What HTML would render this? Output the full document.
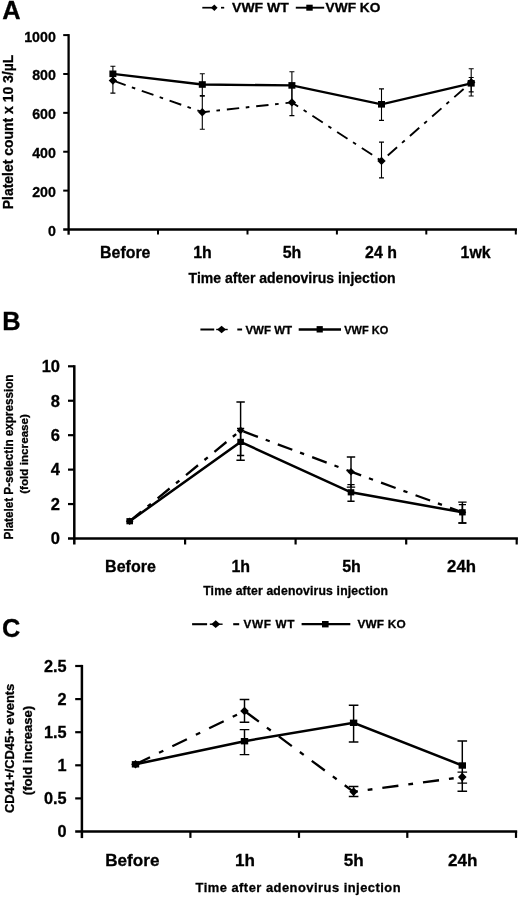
<!DOCTYPE html>
<html lang="en"><head><meta charset="utf-8"><title>Figure</title>
<style>
html,body{margin:0;padding:0;background:#fff;}
body{width:520px;height:897px;overflow:hidden;}
svg{display:block;}
svg text{font-family:"Liberation Sans", Arial, Helvetica, sans-serif;font-weight:700;fill:#000;white-space:pre;stroke:#000;stroke-width:0.3px;}
</style></head><body>
<svg width="520" height="897" viewBox="0 0 520 897">
<rect width="520" height="897" fill="#fff"/>
<text x="2.2" y="18.8" font-size="25.4" text-anchor="start" >A</text>
<line x1="202.3" y1="7.7" x2="214" y2="7.7" stroke="#000" stroke-width="1.7"/>
<line x1="221" y1="7.7" x2="224.2" y2="7.7" stroke="#000" stroke-width="1.7"/>
<path d="M211.0,7.7 L214.3,4.4 L217.6,7.7 L214.3,11.0 Z" fill="#000"/>
<text x="232.1" y="12" font-size="13.2" textLength="56.7" lengthAdjust="spacingAndGlyphs">VWF WT</text>
<line x1="295.8" y1="7.7" x2="324.2" y2="7.7" stroke="#000" stroke-width="1.9"/>
<rect x="306.3" y="4.7" width="6.4" height="6.0" fill="#000"/>
<text x="325.6" y="12" font-size="13.2" textLength="54.8" lengthAdjust="spacingAndGlyphs">VWF KO</text>
<line x1="68.6" y1="34.1" x2="68.6" y2="234.7" stroke="#000" stroke-width="2.3"/>
<line x1="63.2" y1="229.5" x2="517" y2="229.5" stroke="#000" stroke-width="2.3"/>
<text x="55.8" y="235.9" font-size="14.2" text-anchor="end" >0</text>
<line x1="63.2" y1="190.62" x2="68.6" y2="190.62" stroke="#000" stroke-width="2"/>
<text x="55.8" y="197.02" font-size="14.2" text-anchor="end" >200</text>
<line x1="63.2" y1="151.74" x2="68.6" y2="151.74" stroke="#000" stroke-width="2"/>
<text x="55.8" y="158.14" font-size="14.2" text-anchor="end" >400</text>
<line x1="63.2" y1="112.86" x2="68.6" y2="112.86" stroke="#000" stroke-width="2"/>
<text x="55.8" y="119.26" font-size="14.2" text-anchor="end" >600</text>
<line x1="63.2" y1="73.98" x2="68.6" y2="73.98" stroke="#000" stroke-width="2"/>
<text x="55.8" y="80.38" font-size="14.2" text-anchor="end" >800</text>
<line x1="63.2" y1="35.1" x2="68.6" y2="35.1" stroke="#000" stroke-width="2"/>
<text x="55.8" y="41.5" font-size="14.2" text-anchor="end" >1000</text>
<line x1="158" y1="229.5" x2="158" y2="234.5" stroke="#000" stroke-width="2"/>
<line x1="247.5" y1="229.5" x2="247.5" y2="234.5" stroke="#000" stroke-width="2"/>
<line x1="336.9" y1="229.5" x2="336.9" y2="234.5" stroke="#000" stroke-width="2"/>
<line x1="426.3" y1="229.5" x2="426.3" y2="234.5" stroke="#000" stroke-width="2"/>
<line x1="515.8" y1="229.5" x2="515.8" y2="234.5" stroke="#000" stroke-width="2"/>
<text x="125.25" y="258.3" font-size="15.9" text-anchor="middle" >Before</text>
<text x="202.5" y="258.3" font-size="15.9" text-anchor="middle" >1h</text>
<text x="292.0" y="258.3" font-size="15.9" text-anchor="middle" >5h</text>
<text x="381.0" y="258.3" font-size="15.9" text-anchor="middle" >24 h</text>
<text x="475.6" y="258.3" font-size="15.9" text-anchor="middle" >1wk</text>
<text x="188.6" y="282.5" font-size="14.3" textLength="207.0" lengthAdjust="spacingAndGlyphs">Time after adenovirus injection</text>
<text transform="translate(13,209.2) rotate(-90)" font-size="14.2" textLength="154.4" lengthAdjust="spacingAndGlyphs">Platelet count x 10 3/µL</text>
<path d="M112.9,74 V93.1 M110.4,74 H115.4 M110.4,93.1 H115.4" stroke="#000" stroke-width="1.1" fill="none"/>
<path d="M202.3,95.5 V129.2 M199.8,95.5 H204.8 M199.8,129.2 H204.8" stroke="#000" stroke-width="1.1" fill="none"/>
<path d="M291.9,86.5 V115.6 M289.4,86.5 H294.4 M289.4,115.6 H294.4" stroke="#000" stroke-width="1.1" fill="none"/>
<path d="M381.5,142.1 V177.9 M379.0,142.1 H384.0 M379.0,177.9 H384.0" stroke="#000" stroke-width="1.1" fill="none"/>
<path d="M471.2,77.5 V91.9 M468.7,77.5 H473.7 M468.7,91.9 H473.7" stroke="#000" stroke-width="1.1" fill="none"/>
<path d="M112.9,66.2 V81.5 M110.4,66.2 H115.4 M110.4,81.5 H115.4" stroke="#000" stroke-width="1.1" fill="none"/>
<path d="M202.3,73.8 V96.3 M199.8,73.8 H204.8 M199.8,96.3 H204.8" stroke="#000" stroke-width="1.1" fill="none"/>
<path d="M291.9,71.7 V101.5 M289.4,71.7 H294.4 M289.4,101.5 H294.4" stroke="#000" stroke-width="1.1" fill="none"/>
<path d="M381.5,88.9 V120.4 M379.0,88.9 H384.0 M379.0,120.4 H384.0" stroke="#000" stroke-width="1.1" fill="none"/>
<path d="M471.2,68.8 V96 M468.7,68.8 H473.7 M468.7,96 H473.7" stroke="#000" stroke-width="1.1" fill="none"/>
<line x1="112.9" y1="80.6" x2="202.3" y2="112.2" stroke="#000" stroke-width="1.9" stroke-dasharray="12.4 6.6 3.6 6.9" stroke-dashoffset="-1.1"/>
<line x1="202.3" y1="112.2" x2="291.9" y2="102.4" stroke="#000" stroke-width="1.9" stroke-dasharray="12.4 6.6 3.6 6.9" stroke-dashoffset="4.8"/>
<line x1="291.9" y1="102.4" x2="381.5" y2="160.9" stroke="#000" stroke-width="1.9" stroke-dasharray="12.4 6.6 3.6 6.9" stroke-dashoffset="5.0"/>
<line x1="381.5" y1="160.9" x2="471.2" y2="82.3" stroke="#000" stroke-width="1.9" stroke-dasharray="12.4 6.6 3.6 6.9" stroke-dashoffset="21.2"/>
<polyline points="112.9,73.8 202.3,84.5 291.9,85.4 381.5,104.3 471.2,83.3" fill="none" stroke="#000" stroke-width="2.3" stroke-linejoin="miter"/>
<path d="M108.7,80.6 L112.9,76.4 L117.1,80.6 L112.9,84.8 Z" fill="#000"/>
<path d="M198.1,112.2 L202.3,108.0 L206.5,112.2 L202.3,116.4 Z" fill="#000"/>
<path d="M287.7,102.4 L291.9,98.2 L296.1,102.4 L291.9,106.6 Z" fill="#000"/>
<path d="M377.3,160.9 L381.5,156.7 L385.7,160.9 L381.5,165.1 Z" fill="#000"/>
<path d="M467.0,82.3 L471.2,78.1 L475.4,82.3 L471.2,86.5 Z" fill="#000"/>
<rect x="109.4" y="70.5" width="7.0" height="6.6" fill="#000"/>
<rect x="198.8" y="81.2" width="7.0" height="6.6" fill="#000"/>
<rect x="288.4" y="82.1" width="7.0" height="6.6" fill="#000"/>
<rect x="378.0" y="101.0" width="7.0" height="6.6" fill="#000"/>
<rect x="467.7" y="80.0" width="7.0" height="6.6" fill="#000"/>
<text x="2.2" y="330" font-size="25.4" text-anchor="start" >B</text>
<line x1="200.4" y1="329.5" x2="214.2" y2="329.5" stroke="#000" stroke-width="2"/>
<line x1="216.2" y1="329.5" x2="227.7" y2="329.5" stroke="#000" stroke-width="1.4"/>
<line x1="237.3" y1="329.5" x2="242.1" y2="329.5" stroke="#000" stroke-width="2"/>
<path d="M217.2,329.5 L221.6,325.7 L226.0,329.5 L221.6,333.3 Z" fill="#000"/>
<text x="245.4" y="333.5" font-size="11.6" textLength="46.7" lengthAdjust="spacingAndGlyphs">VWF WT</text>
<line x1="298.7" y1="329.5" x2="341" y2="329.5" stroke="#000" stroke-width="2.3"/>
<rect x="316.6" y="326.1" width="6.2" height="6.4" fill="#000"/>
<text x="344.3" y="333.5" font-size="11.6" textLength="43.9" lengthAdjust="spacingAndGlyphs">VWF KO</text>
<line x1="74.3" y1="365.2" x2="74.3" y2="544.5" stroke="#000" stroke-width="2.5"/>
<line x1="68.0" y1="538.5" x2="517.9" y2="538.5" stroke="#000" stroke-width="2.6"/>
<text x="60" y="544.3" font-size="16.5" text-anchor="end" >0</text>
<line x1="68.0" y1="504.06" x2="74.3" y2="504.06" stroke="#000" stroke-width="2.2"/>
<text x="60" y="509.86" font-size="16.5" text-anchor="end" >2</text>
<line x1="68.0" y1="469.62" x2="74.3" y2="469.62" stroke="#000" stroke-width="2.2"/>
<text x="60" y="475.42" font-size="16.5" text-anchor="end" >4</text>
<line x1="68.0" y1="435.18" x2="74.3" y2="435.18" stroke="#000" stroke-width="2.2"/>
<text x="60" y="440.98" font-size="16.5" text-anchor="end" >6</text>
<line x1="68.0" y1="400.74" x2="74.3" y2="400.74" stroke="#000" stroke-width="2.2"/>
<text x="60" y="406.54" font-size="16.5" text-anchor="end" >8</text>
<line x1="68.0" y1="366.3" x2="74.3" y2="366.3" stroke="#000" stroke-width="2.2"/>
<text x="60" y="372.1" font-size="16.5" text-anchor="end" >10</text>
<line x1="185.1" y1="538.5" x2="185.1" y2="544.5" stroke="#000" stroke-width="2.2"/>
<line x1="295.6" y1="538.5" x2="295.6" y2="544.5" stroke="#000" stroke-width="2.2"/>
<line x1="406.2" y1="538.5" x2="406.2" y2="544.5" stroke="#000" stroke-width="2.2"/>
<line x1="516.7" y1="538.5" x2="516.7" y2="544.5" stroke="#000" stroke-width="2.2"/>
<text x="130.45" y="571.7" font-size="16" text-anchor="middle" >Before</text>
<text x="240.75" y="571.7" font-size="16" text-anchor="middle" >1h</text>
<text x="351.55" y="571.7" font-size="16" text-anchor="middle" >5h</text>
<text x="461.55" y="571.7" font-size="16.8" text-anchor="middle" >24h</text>
<text x="203.2" y="595.1" font-size="12.2" textLength="184.8" lengthAdjust="spacing">Time after adenovirus injection</text>
<text transform="translate(13,539.4) rotate(-90)" font-size="12.5" textLength="164.8" lengthAdjust="spacingAndGlyphs">Platelet P-selectin expression</text>
<text transform="translate(28.4,493.8) rotate(-90)" font-size="11.8" textLength="79.8" lengthAdjust="spacingAndGlyphs">(fold increase)</text>
<path d="M240.6,401.9 V460.2 M236.4,401.9 H244.8 M236.4,460.2 H244.8" stroke="#000" stroke-width="1.45" fill="none"/>
<path d="M351,456.9 V487.1 M346.8,456.9 H355.2 M346.8,487.1 H355.2" stroke="#000" stroke-width="1.45" fill="none"/>
<path d="M462.4,502.1 V522.9 M458.2,502.1 H466.6 M458.2,522.9 H466.6" stroke="#000" stroke-width="1.45" fill="none"/>
<path d="M240.6,428.5 V455.4 M237.0,428.5 H244.2 M237.0,455.4 H244.2" stroke="#000" stroke-width="1.45" fill="none"/>
<path d="M351,484.6 V501.2 M347.4,484.6 H354.6 M347.4,501.2 H354.6" stroke="#000" stroke-width="1.45" fill="none"/>
<path d="M462.4,504.6 V522.9 M458.8,504.6 H466.0 M458.8,522.9 H466.0" stroke="#000" stroke-width="1.45" fill="none"/>
<line x1="129.7" y1="521.2" x2="240.6" y2="430.4" stroke="#000" stroke-width="2.3" stroke-dasharray="15.5 8.3 4.3 8.6" stroke-dashoffset="0.6"/>
<line x1="240.6" y1="430.4" x2="351" y2="471.7" stroke="#000" stroke-width="2.3" stroke-dasharray="15.5 8.3 4.3 8.6" stroke-dashoffset="-3"/>
<line x1="351" y1="471.7" x2="462.4" y2="512.3" stroke="#000" stroke-width="2.3" stroke-dasharray="15.5 8.3 4.3 8.6" stroke-dashoffset="4.7"/>
<polyline points="129.7,521.2 240.6,441.9 351,492.3 462.4,512.3" fill="none" stroke="#000" stroke-width="2.5" stroke-linejoin="miter"/>
<path d="M125.9,521.2 L129.7,517.4 L133.5,521.2 L129.7,525.0 Z" fill="#000"/>
<path d="M236.8,430.4 L240.6,426.6 L244.4,430.4 L240.6,434.2 Z" fill="#000"/>
<path d="M347.2,471.7 L351,467.9 L354.8,471.7 L351,475.5 Z" fill="#000"/>
<path d="M458.6,512.3 L462.4,508.5 L466.2,512.3 L462.4,516.1 Z" fill="#000"/>
<rect x="126.4" y="518.1" width="6.6" height="6.2" fill="#000"/>
<rect x="237.3" y="438.8" width="6.6" height="6.2" fill="#000"/>
<rect x="347.7" y="489.2" width="6.6" height="6.2" fill="#000"/>
<rect x="459.1" y="509.2" width="6.6" height="6.2" fill="#000"/>
<text x="2.1" y="636.8" font-size="25.4" text-anchor="start" >C</text>
<line x1="192.1" y1="624.2" x2="207.1" y2="624.2" stroke="#000" stroke-width="2.1"/>
<line x1="209.8" y1="624.2" x2="222.6" y2="624.2" stroke="#000" stroke-width="1.4"/>
<line x1="233.2" y1="624.2" x2="239.2" y2="624.2" stroke="#000" stroke-width="2.1"/>
<path d="M211.2,624.2 L215.7,620.3 L220.2,624.2 L215.7,628.1 Z" fill="#000"/>
<text x="243.6" y="628.2" font-size="11.8" textLength="50.9" lengthAdjust="spacing">VWF WT</text>
<line x1="301.6" y1="624.2" x2="350.3" y2="624.2" stroke="#000" stroke-width="2.3"/>
<rect x="322.0" y="621.0" width="6.6" height="6.4" fill="#000"/>
<text x="357.4" y="628.2" font-size="11.8" textLength="48.2" lengthAdjust="spacing">VWF KO</text>
<line x1="81.9" y1="664.9" x2="81.9" y2="838.1" stroke="#000" stroke-width="2.5"/>
<line x1="75.2" y1="831.5" x2="517.2" y2="831.5" stroke="#000" stroke-width="2.5"/>
<text x="66.6" y="837.1" font-size="16.3" text-anchor="end" >0</text>
<line x1="75.2" y1="798.4" x2="81.9" y2="798.4" stroke="#000" stroke-width="2.2"/>
<text x="66.6" y="804.0" font-size="16.3" text-anchor="end" >0.5</text>
<line x1="75.2" y1="765.3" x2="81.9" y2="765.3" stroke="#000" stroke-width="2.2"/>
<text x="66.6" y="770.9" font-size="16.3" text-anchor="end" >1</text>
<line x1="75.2" y1="732.2" x2="81.9" y2="732.2" stroke="#000" stroke-width="2.2"/>
<text x="66.6" y="737.8" font-size="16.3" text-anchor="end" >1.5</text>
<line x1="75.2" y1="699.1" x2="81.9" y2="699.1" stroke="#000" stroke-width="2.2"/>
<text x="66.6" y="704.7" font-size="16.3" text-anchor="end" >2</text>
<line x1="75.2" y1="666.0" x2="81.9" y2="666.0" stroke="#000" stroke-width="2.2"/>
<text x="66.6" y="671.6" font-size="16.3" text-anchor="end" >2.5</text>
<line x1="190.4" y1="831.5" x2="190.4" y2="837.9" stroke="#000" stroke-width="2.2"/>
<line x1="299" y1="831.5" x2="299" y2="837.9" stroke="#000" stroke-width="2.2"/>
<line x1="407.3" y1="831.5" x2="407.3" y2="837.9" stroke="#000" stroke-width="2.2"/>
<line x1="516" y1="831.5" x2="516" y2="837.9" stroke="#000" stroke-width="2.2"/>
<text x="132.35" y="866.1" font-size="17.1" text-anchor="middle" >Before</text>
<text x="244.9" y="866.1" font-size="17.1" text-anchor="middle" >1h</text>
<text x="353.85" y="866.1" font-size="17.1" text-anchor="middle" >5h</text>
<text x="462.75" y="866.1" font-size="17.1" text-anchor="middle" >24h</text>
<text x="195.5" y="892.2" font-size="12.9" textLength="205.1" lengthAdjust="spacing">Time after adenovirus injection</text>
<text transform="translate(14.1,813) rotate(-90)" font-size="13.5" textLength="129.3" lengthAdjust="spacingAndGlyphs">CD41+/CD45+ events</text>
<text transform="translate(31.7,795.2) rotate(-90)" font-size="12.6" textLength="89.4" lengthAdjust="spacingAndGlyphs">(fold increase)</text>
<path d="M244.5,699.4 V722.3 M239.7,699.4 H249.3 M239.7,722.3 H249.3" stroke="#000" stroke-width="1.45" fill="none"/>
<path d="M353.6,786.4 V796.4 M348.8,786.4 H358.4 M348.8,796.4 H358.4" stroke="#000" stroke-width="1.45" fill="none"/>
<path d="M462.3,772.1 V783.1 M457.5,772.1 H467.1 M457.5,783.1 H467.1" stroke="#000" stroke-width="1.45" fill="none"/>
<path d="M244.5,729.6 V754.6 M239.7,729.6 H249.3 M239.7,754.6 H249.3" stroke="#000" stroke-width="1.45" fill="none"/>
<path d="M353.6,705.3 V742 M348.8,705.3 H358.4 M348.8,742 H358.4" stroke="#000" stroke-width="1.45" fill="none"/>
<path d="M462.3,741 V791.2 M457.5,741 H467.1 M457.5,791.2 H467.1" stroke="#000" stroke-width="1.45" fill="none"/>
<line x1="135.5" y1="764.3" x2="244.5" y2="711" stroke="#000" stroke-width="2.3" stroke-dasharray="16.2 10 4.8 10" stroke-dashoffset="0"/>
<line x1="244.5" y1="711" x2="353.6" y2="791.8" stroke="#000" stroke-width="2.3" stroke-dasharray="16.2 10 4.8 10" stroke-dashoffset="-1.7"/>
<line x1="353.6" y1="791.8" x2="462.3" y2="777.1" stroke="#000" stroke-width="2.3" stroke-dasharray="16.2 10 4.8 10" stroke-dashoffset="12"/>
<polyline points="135.5,764.3 244.5,741.2 353.6,722.8 462.3,765.5" fill="none" stroke="#000" stroke-width="2.5" stroke-linejoin="miter"/>
<path d="M131.2,764.3 L135.5,760.0 L139.8,764.3 L135.5,768.6 Z" fill="#000"/>
<path d="M240.2,711 L244.5,706.7 L248.8,711 L244.5,715.3 Z" fill="#000"/>
<path d="M349.3,791.8 L353.6,787.5 L357.9,791.8 L353.6,796.1 Z" fill="#000"/>
<path d="M458.0,777.1 L462.3,772.8 L466.6,777.1 L462.3,781.4 Z" fill="#000"/>
<rect x="131.8" y="761.1" width="7.4" height="6.4" fill="#000"/>
<rect x="240.8" y="738.0" width="7.4" height="6.4" fill="#000"/>
<rect x="349.9" y="719.6" width="7.4" height="6.4" fill="#000"/>
<rect x="458.6" y="762.3" width="7.4" height="6.4" fill="#000"/>
</svg>
</body></html>
